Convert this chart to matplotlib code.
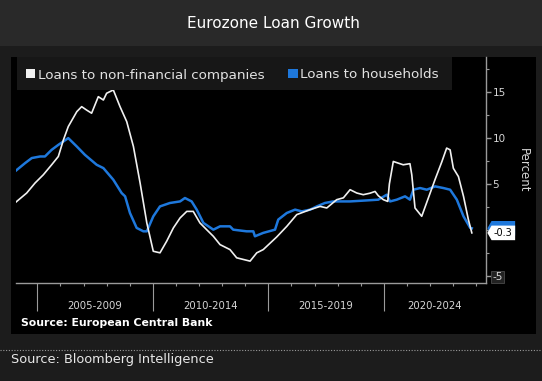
import matplotlib
matplotlib.use("Agg")
import matplotlib.pyplot as plt
import matplotlib.transforms as mtransforms
from matplotlib.patches import Rectangle, Polygon
from matplotlib.offsetbox import DrawingArea, AnnotationBbox
from matplotlib.text import Text
from matplotlib.ticker import FixedLocator, FixedFormatter, NullFormatter

# ---------------- data ----------------
title = "Eurozone Loan Growth"
series_names = ["Loans to non-financial companies", "Loans to households"]

nfc_years = [2004.08, 2004.54, 2004.90, 2005.26, 2005.62, 2005.91, 2006.13, 2006.34,
             2006.71, 2006.92, 2007.14, 2007.35, 2007.64, 2007.86, 2008.00, 2008.29,
             2008.58, 2008.87, 2009.16, 2009.45, 2009.74, 2010.02, 2010.31, 2010.60,
             2010.89, 2011.18, 2011.47, 2011.75, 2012.04, 2012.33, 2012.62, 2012.91,
             2013.34, 2013.63, 2014.21, 2014.50, 2014.78, 2015.36, 2015.80, 2016.23,
             2016.81, 2017.24, 2017.53, 2017.96, 2018.25, 2018.54, 2018.83, 2019.11,
             2019.40, 2019.62, 2019.76, 2019.98, 2020.17, 2020.24, 2020.41, 2020.84,
             2021.13, 2021.21, 2021.35, 2021.64, 2021.93, 2022.22, 2022.51, 2022.72,
             2022.87, 2023.01, 2023.23, 2023.45, 2023.66, 2023.81]
nfc_values = [3.05, 4.02, 5.10, 6.00, 7.08, 7.98, 9.78, 11.22,
              12.84, 13.38, 13.00, 12.67, 14.46, 14.10, 14.83, 15.19,
              13.38, 11.76, 9.06, 5.10, 0.78, -2.29, -2.46, -1.20,
              0.24, 1.32, 2.03, 2.03, 0.78, 0.05, -0.67, -1.57,
              -2.11, -3.00, -3.36, -2.46, -2.11, -0.75, 0.41, 1.68,
              2.22, 2.57, 2.40, 3.30, 3.50, 4.38, 4.02, 3.84,
              4.00, 4.19, 3.73, 3.30, 3.11, 5.00, 7.44, 7.08,
              7.20, 6.00, 2.40, 1.50, 3.50, 5.50, 7.40, 8.89,
              8.70, 6.70, 5.80, 3.65, 1.14, -0.30]

hh_years = [2004.08, 2004.47, 2004.76, 2005.12, 2005.33, 2005.62, 2005.91, 2006.34,
            2006.71, 2007.06, 2007.57, 2007.86, 2008.29, 2008.65, 2008.80, 2009.01,
            2009.30, 2009.45, 2009.59, 2009.74, 2010.02, 2010.31, 2010.74, 2011.18,
            2011.39, 2011.68, 2011.90, 2012.19, 2012.62, 2012.91, 2013.34, 2013.48,
            2014.06, 2014.35, 2014.42, 2014.78, 2015.29, 2015.43, 2015.80, 2016.16,
            2016.45, 2016.81, 2017.10, 2017.45, 2017.81, 2018.54, 2019.26, 2019.76,
            2020.13, 2020.27, 2020.56, 2020.92, 2021.13, 2021.28, 2021.57, 2021.86,
            2022.22, 2022.58, 2022.87, 2023.16, 2023.45, 2023.74, 2023.81]
hh_values = [6.46, 7.26, 7.81, 7.98, 7.98, 8.70, 9.24, 9.97,
             9.06, 8.16, 7.08, 6.72, 5.46, 4.02, 3.66, 1.86,
             0.24, 0.05, -0.13, -0.13, 1.49, 2.57, 2.94, 3.11,
             3.48, 3.11, 2.22, 0.78, 0.05, 0.41, 0.41, 0.05,
             -0.13, -0.13, -0.67, -0.30, 0.05, 1.14, 1.86, 2.22,
             2.03, 2.22, 2.57, 2.94, 3.11, 3.11, 3.22, 3.30,
             3.84, 3.11, 3.30, 3.66, 3.30, 4.38, 4.56, 4.38,
             4.74, 4.56, 4.38, 3.30, 1.49, 0.24, 0.20]

y_major = [-5, 0, 5, 10, 15]
y_major_labels = ["-5", "", "5", "10", "15"]
y_minor = [-2.5, 2.5, 7.5, 12.5, 17.5]
x_group_starts = [2005, 2010, 2015, 2020]
x_group_labels = ["2005-2009", "2010-2014", "2015-2019", "2020-2024"]
x_minor_years = [y for y in range(2004, 2025) if y not in x_group_starts]
x_limits = (2004.06, 2024.41)
y_limits = (-5.73, 18.76)

source_inner = "Source: European Central Bank"
source_outer = "Source: Bloomberg Intelligence"
y_axis_label = "Percent"

# ---------------- styling ----------------
W, H = 542, 381
WHITE = "#f0f0f0"
BLUE = "#1e78dc"
AXIS = "#9a9a9a"
TXT = "#d6d6d6"

fig = plt.figure(figsize=(W / 100, H / 100), dpi=100, facecolor="#1c1c1c")

def fx(px):
    return px / W

def fy(py):
    return 1 - py / H

# background panels
fig.patches.append(Rectangle((0, fy(46)), 1, 46 / H, transform=fig.transFigure,
                             fc="#292929", ec="none", zorder=-3))
fig.patches.append(Rectangle((fx(11.4), fy(334)), fx(536) - fx(11.4), (334 - 57) / H,
                             transform=fig.transFigure, fc="black", ec="none", zorder=-2))

fig.text(fx(273), fy(23), title, ha="center", va="center", fontsize=11, color="white")

ax = fig.add_axes([fx(15.6), fy(283), fx(485.7) - fx(15.6), (283 - 57) / H])
ax.set_facecolor("black")
ax.plot(hh_years, hh_values, color=BLUE, lw=1.8, solid_joinstyle="round", zorder=2)
ax.plot(nfc_years, nfc_values, color=WHITE, lw=1.2, solid_joinstyle="round", zorder=3)
ax.set_xlim(*x_limits)
ax.set_ylim(*y_limits)

for s in ["left", "top"]:
    ax.spines[s].set_visible(False)
for s in ["bottom", "right"]:
    ax.spines[s].set_color(AXIS)
    ax.spines[s].set_linewidth(1.0)

# y axis on the right
ax.yaxis.tick_right()
ax.yaxis.set_major_locator(FixedLocator(y_major))
ax.yaxis.set_major_formatter(FixedFormatter(y_major_labels))
ax.yaxis.set_minor_locator(FixedLocator(y_minor))
ax.tick_params(axis="y", which="major", length=3.5, width=1.0, color=AXIS,
               labelcolor=TXT, labelsize=7.5, pad=1.5, direction="out")
ax.tick_params(axis="y", which="minor", length=2.2, width=0.8, color=AXIS, direction="out")
for lbl in ax.get_yticklabels():
    if lbl.get_text() == "-5":
        lbl.set_bbox(dict(fc="#222222", ec="#4a4a4a", lw=0.6, pad=0.8))

# x axis: group separators + yearly minor ticks
ax.xaxis.set_major_locator(FixedLocator(x_group_starts))
ax.xaxis.set_major_formatter(NullFormatter())
ax.xaxis.set_minor_locator(FixedLocator(x_minor_years))
ax.tick_params(axis="x", which="major", length=20, width=0.8, color=AXIS, direction="out")
ax.tick_params(axis="x", which="minor", length=1.8, width=0.8, color=AXIS, direction="out")
blend = mtransforms.blended_transform_factory(ax.transData, ax.transAxes)
for i, lab in enumerate(x_group_labels):
    start = x_group_starts[i]
    end = min(start + 5, x_limits[1])
    ax.text((start + end) / 2, -26 / 226, lab, transform=blend, ha="center",
            va="baseline", fontsize=7.3, color=TXT)

fig.text(fx(523), fy(170), y_axis_label, rotation=270, ha="center", va="center",
         fontsize=8.5, color=TXT)

# end-value labels on right axis
blend_y = mtransforms.blended_transform_factory(ax.transAxes, ax.transData)

def end_label(value, fc, tc, z, show_text=True):
    w, h = 20.0, 10.5
    da = DrawingArea(w, h, 0, 0)
    da.add_artist(Polygon([(0, h / 2), (3, h), (w, h), (w, 0), (3, 0)], closed=True,
                          fc=fc, ec="none"))
    if show_text:
        da.add_artist(Text(w / 2 + 1.5, h / 2 - 0.3, f"{value:.1f}", ha="center",
                           va="center", fontsize=7, color=tc))
    ab = AnnotationBbox(da, (1, value), xycoords=blend_y, xybox=(1.2, 0),
                        boxcoords="offset points", box_alignment=(0, 0.5),
                        frameon=False, pad=0, annotation_clip=False, zorder=z)
    ax.add_artist(ab)

# households label sits behind the companies label (its text is hidden in the reference)
end_label(hh_values[-1], BLUE, "white", 5, show_text=False)
end_label(nfc_values[-1], "white", "black", 6)

# legend (manual, matching the boxed legend of the reference)
fig.patches.append(Rectangle((fx(17), fy(89.5)), fx(451.7) - fx(17), (89.5 - 57) / H,
                             transform=fig.transFigure, fc="#171717", ec="none", zorder=4))
fig.patches.append(Rectangle((fx(26), fy(78.3)), fx(35) - fx(26), 9.3 / H,
                             transform=fig.transFigure, fc=WHITE, ec="none", zorder=5))
fig.patches.append(Rectangle((fx(288.3), fy(78.3)), fx(297.7) - fx(288.3), 9.3 / H,
                             transform=fig.transFigure, fc=BLUE, ec="none", zorder=5))
fig.text(fx(38.5), fy(78.5), series_names[0], ha="left", va="baseline",
         fontsize=9.7, color="#e2e2e2", zorder=6)
fig.text(fx(300.5), fy(78.5), series_names[1], ha="left", va="baseline",
         fontsize=9.7, color="#e2e2e2", zorder=6)

# sources
fig.text(fx(21), fy(326.3), source_inner, ha="left", va="baseline", fontsize=7.8,
         fontweight="bold", color="white")
fig.add_artist(plt.Line2D([0, 1], [fy(349.5), fy(349.5)], transform=fig.transFigure,
                          color="#9a9a9a", lw=0.8, ls=(0, (1, 1.5))))
fig.text(fx(11.4), fy(363.5), source_outer, ha="left", va="baseline", fontsize=9.3,
         color="#e8e8e8")

fig.savefig("out.png", dpi=100, facecolor=fig.get_facecolor())
